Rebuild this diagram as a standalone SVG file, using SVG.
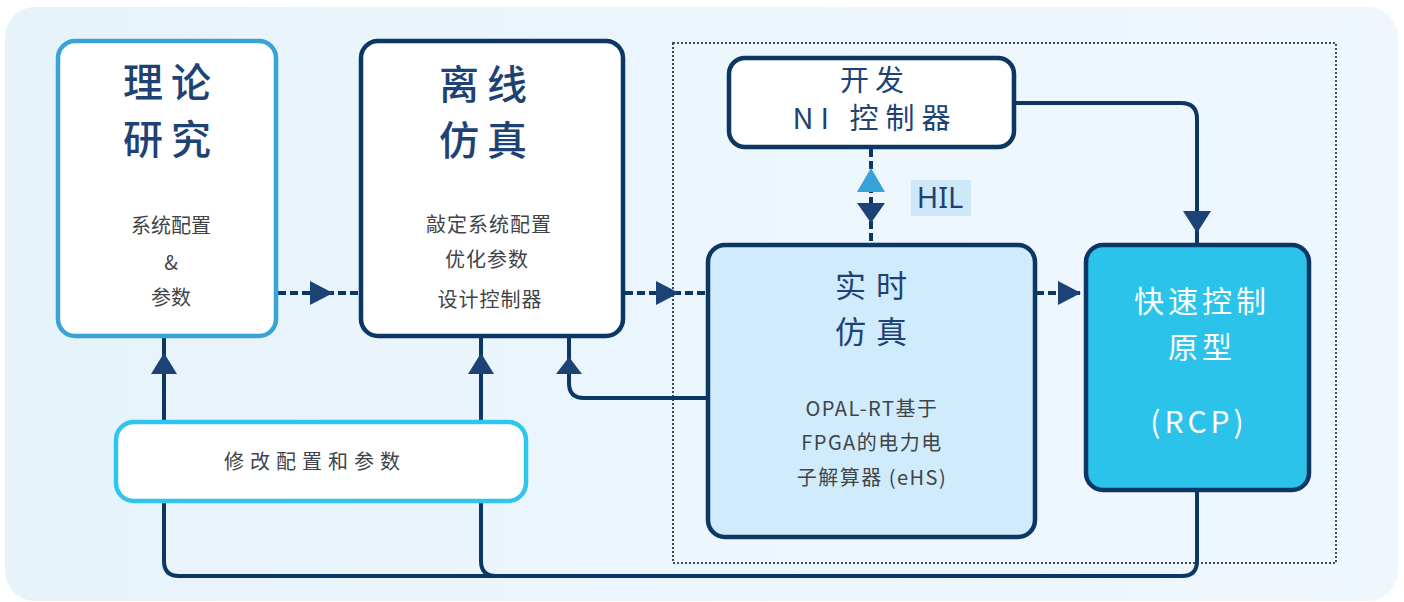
<svg xmlns="http://www.w3.org/2000/svg" width="1404" height="602" viewBox="0 0 1404 602">
<defs>
<linearGradient id="bg" x1="0" y1="0" x2="1" y2="0">
<stop offset="0" stop-color="#e7f3fb"/>
<stop offset="1" stop-color="#eff7fd"/>
</linearGradient>
<style>
.box{stroke-width:4.5}
.navy{stroke:#0c3764}
.ttl{font-family:"Noto Sans CJK SC","Noto Sans",sans-serif;fill:#1f4274;text-anchor:middle;font-weight:500}
.reg{font-weight:400}
.wht{fill:#fff}
.sub{font-family:"Noto Sans CJK SC","Noto Sans",sans-serif;fill:#404448;text-anchor:middle;font-size:20px}
.ln{fill:none;stroke:#0c3764;stroke-width:4}
.dash{fill:none;stroke:#0c3764;stroke-width:4;stroke-dasharray:8 4}
.ah{fill:#1d4275}
</style>
</defs>
<rect x="5" y="7" width="1393" height="594" rx="30" fill="url(#bg)"/>
<rect id="group-frame" x="673" y="43" width="663" height="520" fill="#eef7fd" fill-opacity="0.5" stroke="#3d4b5c" stroke-width="2" stroke-dasharray="2 2"/>

<g id="connectors">
<line class="dash" x1="278" y1="293" x2="359" y2="293"/>
<polygon class="ah" points="310,281 333,293 310,305"/>
<line class="dash" x1="625" y1="293" x2="706" y2="293"/>
<polygon class="ah" points="656,281 679,293 656,305"/>
<line class="dash" x1="1036" y1="293" x2="1084" y2="293"/>
<polygon class="ah" points="1058,281 1081,293 1058,305"/>
<path class="ln" d="M1015,103 H1181 Q1197,103 1197,119 V245"/>
<polygon class="ah" points="1183,211 1211,211 1197,233"/>
<line class="dash" x1="871" y1="149" x2="871" y2="245" stroke-dasharray="10 4"/>
<polygon fill="#35a3d7" points="857,192 885,192 871,168"/>
<polygon class="ah" points="857,203 885,203 871,223"/>
<path class="ln" d="M708,398 H584 Q569,398 569,383 V338"/>
<polygon class="ah" points="556,374 582,374 569,357"/>
<path class="ln" d="M1197,491 V561 Q1197,576 1182,576 H179 Q164,576 164,561 V338"/>
<path class="ln" d="M481,338 V561 Q481,576 496,576"/>
<polygon class="ah" points="151,374 177,374 164,353"/>
<polygon class="ah" points="468,374 494,374 481,353"/>
</g>

<g id="node-theory">
<rect class="box" x="58" y="41" width="218" height="295" rx="17" fill="#fff" stroke="#3aa3d6"/>
<text class="ttl" x="171" y="97" font-size="40" letter-spacing="8">理论</text>
<text class="ttl" x="171" y="154" font-size="40" letter-spacing="8">研究</text>
<text class="sub" x="171" y="233" font-size="21">系统配置</text>
<text class="sub" x="171" y="270">&amp;</text>
<text class="sub" x="171" y="305">参数</text>
</g>

<g id="node-offline">
<rect class="box navy" x="361" y="41" width="262" height="295" rx="17" fill="#fff"/>
<text class="ttl" x="487" y="99" font-size="40" letter-spacing="8">离线</text>
<text class="ttl" x="487" y="155" font-size="40" letter-spacing="8">仿真</text>
<text class="sub" x="489" y="232" letter-spacing="1">敲定系统配置</text>
<text class="sub" x="487" y="267" letter-spacing="1">优化参数</text>
<text class="sub" x="490" y="307" letter-spacing="1">设计控制器</text>
</g>

<g id="node-ni">
<rect class="box navy" x="729" y="58" width="285" height="89" rx="16" fill="#fff"/>
<text class="ttl reg" x="875" y="91" font-size="29" letter-spacing="6">开发</text>
<text class="ttl reg" x="875" y="129" font-size="29" letter-spacing="7">NI 控制器</text>
</g>

<g id="label-hil">
<rect x="911" y="180" width="60" height="36" fill="#cde9f9"/>
<text x="940" y="208" font-family="Noto Sans, sans-serif" font-size="29" fill="#1f4274" text-anchor="middle">HIL</text>
</g>

<g id="node-realtime">
<rect class="box navy" x="708" y="245" width="327" height="292" rx="17" fill="#d0ebfb"/>
<text class="ttl reg" x="876" y="297" font-size="31" letter-spacing="10">实时</text>
<text class="ttl reg" x="876" y="343" font-size="31" letter-spacing="10">仿真</text>
<text class="sub" x="872" y="416" font-size="24" letter-spacing="1.5" fill="#333">OPAL-RT基于</text>
<text class="sub" x="872" y="450" font-size="24" letter-spacing="1.5" fill="#333">FPGA的电力电</text>
<text class="sub" x="872" y="485" font-size="24" letter-spacing="1.5" fill="#333">子解算器 (eHS)</text>
</g>

<g id="node-rcp">
<rect class="box navy" x="1086" y="245" width="223" height="245" rx="17" fill="#2bc3ea"/>
<text class="ttl reg wht" x="1202" y="312" font-size="30" letter-spacing="4">快速控制</text>
<text class="ttl reg wht" x="1202" y="358" font-size="30" letter-spacing="4">原型</text>
<text class="ttl reg wht" x="1199" y="433" font-size="30" letter-spacing="4">(RCP)</text>
</g>

<g id="node-modify">
<rect class="box" x="116" y="422" width="410" height="79" rx="18" fill="#fff" stroke="#2ec5ee"/>
<text class="sub" x="315" y="469" font-size="22" letter-spacing="6">修改配置和参数</text>
</g>
</svg>
